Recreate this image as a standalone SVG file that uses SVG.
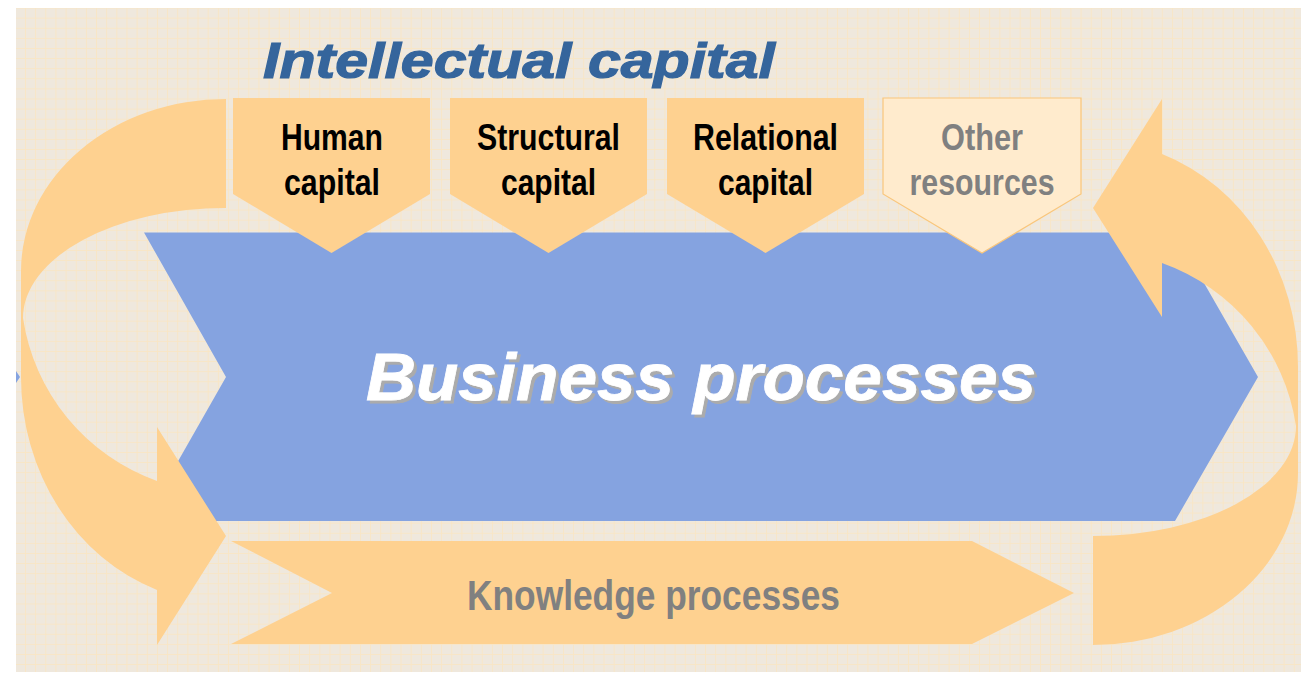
<svg xmlns="http://www.w3.org/2000/svg" width="1301" height="673" viewBox="0 0 1301 673">
  <defs>
    <style>
      .bg { fill: #EFE8DD; }
      .orange { fill: #FED190; }
      .pale { fill: #FFEBCD; stroke: #F9C67C; stroke-width: 1.2; }
      .blue { fill: #85A3E0; }
      .narrow { font-family: 'Liberation Sans Narrow', 'Arial Narrow', 'Liberation Sans', Arial, sans-serif; font-weight: bold; text-anchor: middle; }
      .cap { font-size: 37px; fill: #000000; }
      .grey { fill: #808080; }
      .wide { font-family: 'Liberation Sans', Arial, sans-serif; font-weight: bold; font-style: italic; }
    </style>
    <pattern id="grid" x="25" y="17.7" width="10.15" height="10.1" patternUnits="userSpaceOnUse">
      <path d="M0 0.5H10.15M0.5 0V10.1" fill="none" stroke="#F8E6C6" stroke-width="1"/>
    </pattern>
    <!-- hard grey drop shadow for the headline -->
    <filter id="shadow" x="-5%" y="-20%" width="110%" height="140%">
      <feFlood flood-color="#ABABAB" result="c"/>
      <feComposite in="c" in2="SourceAlpha" operator="in" result="s"/>
      <feOffset in="s" dx="3" dy="3" result="o"/>
      <feMerge>
        <feMergeNode in="o"/>
        <feMergeNode in="SourceGraphic"/>
      </feMerge>
    </filter>
    <!-- curved arrow: tail at top right, band sweeps round the left side, head points right -->
    <path id="curl" d="M226,99 A205,172 0 0 0 21,271 L21,377 A205,226 0 0 0 157,590 L157,645 L226,536 L157,427 L157,481 A205,205 0 0 1 23,318 A203,110 0 0 1 226,208 Z"/>
  </defs>

  <!-- backdrop -->
  <rect class="bg" x="16" y="8" width="1285" height="664"/>
  <rect fill="url(#grid)" x="16" y="8" width="1285" height="664"/>
  <polygon class="blue" points="16,371 20,377 16,383"/>

  <!-- main process chevron -->
  <g id="business-processes">
    <polygon class="blue" points="144,232.5 1175,232.5 1258,377 1175,521 144,521 226,377"/>
  </g>

  <!-- lower process arrow -->
  <g id="knowledge-processes">
    <polygon class="orange" points="231,541 972,541 1074,593 972,644 231,644 332,593"/>
    <text class="narrow grey" x="653.5" y="610" font-size="43" textLength="373" lengthAdjust="spacingAndGlyphs">Knowledge processes</text>
  </g>

  <!-- feedback loops -->
  <g id="connectors">
    <use href="#curl" class="orange"/>
    <use href="#curl" class="orange" transform="rotate(180 659.5 372)"/>
  </g>

  <g id="human-capital">
    <polygon class="orange" points="233,98 430,98 430,194 331.5,253 233,194"/>
    <text class="narrow cap" x="332" y="150" textLength="102" lengthAdjust="spacingAndGlyphs">Human</text>
    <text class="narrow cap" x="332" y="195" textLength="96" lengthAdjust="spacingAndGlyphs">capital</text>
  </g>

  <g id="structural-capital">
    <polygon class="orange" points="450,98 647,98 647,194 548.5,253 450,194"/>
    <text class="narrow cap" x="548.5" y="150" textLength="143" lengthAdjust="spacingAndGlyphs">Structural</text>
    <text class="narrow cap" x="548.5" y="195" textLength="95" lengthAdjust="spacingAndGlyphs">capital</text>
  </g>

  <g id="relational-capital">
    <polygon class="orange" points="667,98 864,98 864,194 765.5,253 667,194"/>
    <text class="narrow cap" x="765.5" y="150" textLength="145" lengthAdjust="spacingAndGlyphs">Relational</text>
    <text class="narrow cap" x="765.5" y="195" textLength="95" lengthAdjust="spacingAndGlyphs">capital</text>
  </g>

  <g id="other-resources">
    <polygon class="pale" points="883,98 1081,98 1081,194 982,253 883,194"/>
    <text class="narrow cap grey" x="982" y="150" textLength="82" lengthAdjust="spacingAndGlyphs">Other</text>
    <text class="narrow cap grey" x="982" y="195" textLength="145" lengthAdjust="spacingAndGlyphs">resources</text>
  </g>

  <!-- titles -->
  <g id="intellectual-capital">
    <text class="wide" x="263" y="78" font-size="50" fill="#35659C" stroke="#35659C" stroke-width="1.2" textLength="512" lengthAdjust="spacingAndGlyphs">Intellectual capital</text>
  </g>
  <g id="business-title">
    <text class="wide" x="366" y="400" font-size="66" fill="#FFFFFF" stroke="#FFFFFF" stroke-width="0.8" filter="url(#shadow)" textLength="670" lengthAdjust="spacingAndGlyphs">Business processes</text>
  </g>
</svg>
